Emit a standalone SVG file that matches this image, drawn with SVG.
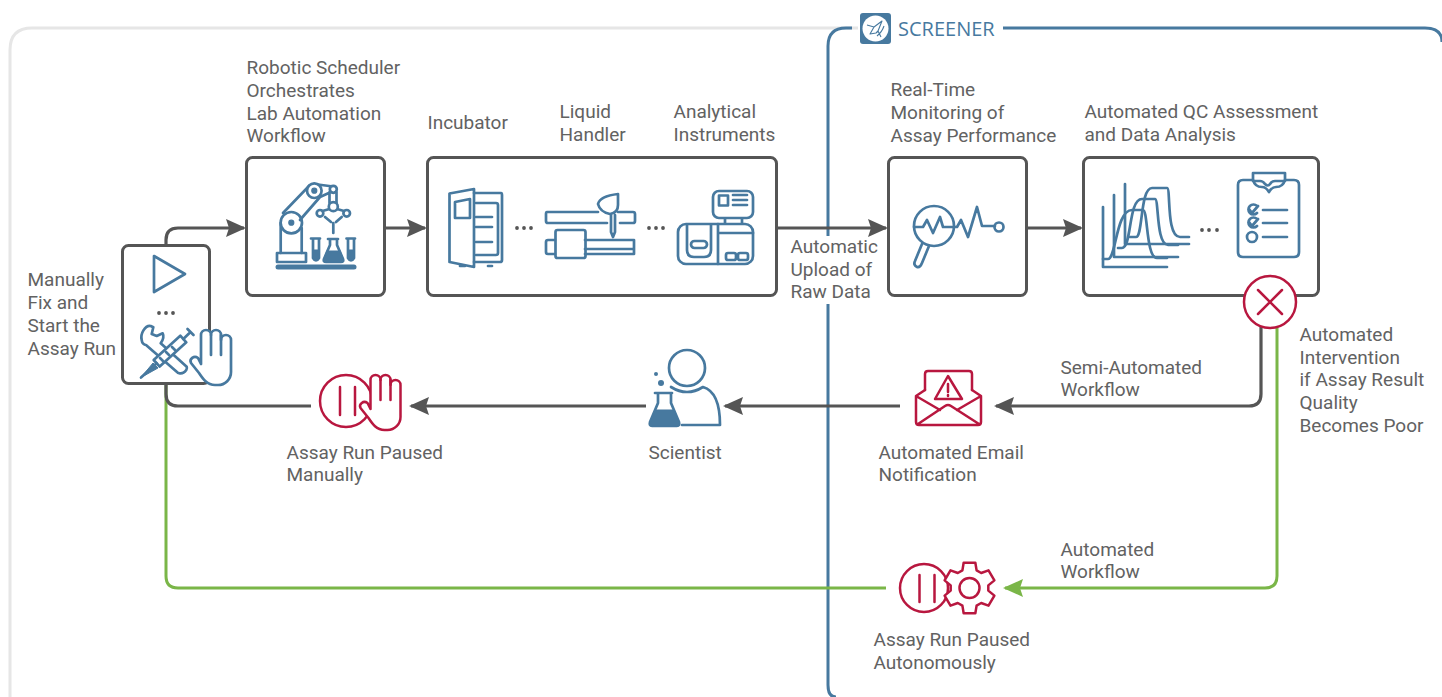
<svg xmlns="http://www.w3.org/2000/svg" width="1442" height="697" viewBox="0 0 1442 697">
<style>
text{font-family:Roboto,"Liberation Sans",sans-serif;font-size:19px;fill:#626262}
.box{fill:#fff;stroke:#555;stroke-width:3}
.b{fill:none;stroke:#47799f;stroke-width:2.700;stroke-linecap:round;stroke-linejoin:round}
.bw{fill:#fff;stroke:#47799f;stroke-width:2.700;stroke-linecap:round;stroke-linejoin:round}
.bf{fill:#47799f;stroke:#47799f;stroke-width:1.200;stroke-linejoin:round}
.r{fill:none;stroke:#b8173f;stroke-width:2.500;stroke-linecap:round;stroke-linejoin:round}
.rw{fill:#fff;stroke:#b8173f;stroke-width:2.500;stroke-linecap:round;stroke-linejoin:round}
.c{fill:none;stroke:#555;stroke-width:3.200}
.g{fill:none;stroke:#7ab648;stroke-width:3}
.d{fill:#555}
</style>
<defs>
<marker id="ag" markerUnits="userSpaceOnUse" markerWidth="22" markerHeight="20" refX="18" refY="9" orient="auto"><path d="M0,0L20,9L0,18L3,9Z" fill="#555"/></marker>
<marker id="ar" markerUnits="userSpaceOnUse" markerWidth="22" markerHeight="20" refX="18" refY="9" orient="auto"><path d="M0,0L20,9L0,18L3,9Z" fill="#7ab648"/></marker>
<symbol id="hand" overflow="visible"><path d="M12,37V8a5,5 0 0 1 10,0a5,5 0 0 1 10,0V13a5,5 0 0 1 10,0V45a13,13 0 0 1-13,13H26C18,58 14,52 10,46L2,36C0,32 5,28 9,31L12,37"/><path d="M22,8V28M32,8V28" fill="none"/></symbol>
</defs>
<g id="frames">
<path d="M10,697V50Q10,28 32,28H858" fill="none" stroke="#e6e6e6" stroke-width="3"/>
<path d="M836,697Q828,697 828,685V304M828,236V46Q828,28 846,28H852M1003,28H1425Q1442,28 1442,42" fill="none" stroke="#47799f" stroke-width="3"/>
</g>
<g id="connectors">
<path class="c" d="M166,245V240Q166,228 178,228H244" marker-end="url(#ag)"/>
<path class="c" d="M385,228H425" marker-end="url(#ag)"/>
<path class="c" d="M777,228H886" marker-end="url(#ag)"/>
<path class="c" d="M1027,228H1081" marker-end="url(#ag)"/>
<path class="g" d="M166,384V576Q166,588 178,588H886"/>
<path class="g" d="M1277,325V576Q1277,588 1265,588H1005" marker-end="url(#ar)"/>
<path class="c" d="M1261,325V394Q1261,406 1249,406H996" marker-end="url(#ag)"/>
<path class="c" d="M900,406H725" marker-end="url(#ag)"/>
<path class="c" d="M646,406H411" marker-end="url(#ag)"/>
<path class="c" d="M166,384V394Q166,406 178,406H311"/>
</g>
<g id="node-start">
<rect class="box" x="122.500" y="245.500" width="87" height="138" rx="6"/>
<path class="b" d="M154,256L185,274L154,292Z"/>
<circle class="d" cx="159" cy="313" r="1.900"/><circle class="d" cx="166" cy="313" r="1.900"/><circle class="d" cx="173" cy="313" r="1.900"/>
<path class="bw" d="M150.700,326C145,325 140,334 141.700,340C142,343 144,345 146,345L176.700,371.700C178,373.500 181.500,374 183.300,372.700C186,371.500 187.500,368.500 186.700,366.700L160.700,343.300C163,340 164,336 162.700,333.300L156.700,336L151.700,334L153.300,327.300Z"/>
<path class="bw" d="M153.700,360L180.300,335.700L186.300,342.300L159.700,366.600Z"/>
<path class="b" d="M156.700,363.300L141,377.500M183.300,339L190,332.500M187.500,329L193.500,335M160,358L163,361M166,352L169,355M172,347L175,350"/>
<path d="M141,377.500L153,363L158,368Z" fill="#47799f" stroke="#47799f" stroke-linejoin="round"/>
<use href="#hand" x="189" y="327" class="bw"/>
<text x="27.500" y="286">Manually</text><text x="27.500" y="309">Fix and</text><text x="27.500" y="332">Start the</text><text x="27.500" y="355">Assay Run</text>
</g>
<g id="node-scheduler">
<rect class="box" x="246.500" y="157.500" width="138" height="138" rx="6"/>
<path class="b" d="M280.700,253V223M301.700,253V228M283,213L309,186M300,220L320,197M314,184L333,186.500M320,197L331,192M329.500,192V203M336.500,192V203M329.500,209L322.500,211M337,209L344,211M325,217L331,222M341.700,217L336,222M333.300,223V233"/>
<circle class="b" cx="291.300" cy="222.700" r="10.700"/><circle class="bf" cx="291.300" cy="222.700" r="2.500"/>
<circle class="bw" cx="314.300" cy="190.700" r="7.300"/><circle class="bf" cx="314.300" cy="190.700" r="2.500"/>
<circle class="bw" cx="333.300" cy="189.300" r="3.500"/><circle class="bw" cx="333.300" cy="206.700" r="4.500"/>
<circle class="b" cx="320" cy="213.300" r="3.300"/><circle class="b" cx="346.700" cy="213.300" r="3.300"/>
<rect class="b" x="277" y="253" width="29" height="9"/>
<path d="M278,267H354" fill="none" stroke="#47799f" stroke-width="5" stroke-linecap="round"/>
<path class="b" d="M311,238.500H320M313,238.500V258Q316,263 319,258V238.500M346.500,238.500H355M348,238.500V258Q351,263 354,258V238.500"/>
<path class="bf" d="M313,250H319V258Q316,263 313,258Z"/><path class="bf" d="M348,250H354V258Q351,263 348,258Z"/>
<path class="b" d="M328,239H338M330,239V245L324,259Q323,262 326,262H341Q344,262 343,259L337,245V239"/>
<path class="bf" d="M327,251H340L343,259Q344,262 341,262H326Q323,262 324,259Z"/>
<text x="246.500" y="74">Robotic Scheduler</text><text x="246.500" y="97">Orchestrates</text><text x="246.500" y="120">Lab Automation</text><text x="246.500" y="142">Workflow</text>
</g>
<g id="node-instruments">
<rect class="box" x="427.500" y="157.500" width="349" height="138" rx="6"/>
<path class="b" d="M474,193H501Q502,193 502,195V260Q502,262 500,262H474M476,203H496Q498,203 498,205V253Q498,255 496,255H476M476,217H492M476,227H492M476,242H492"/>
<path class="b" d="M449.500,193.500L474,189V267L449.500,262ZM455,202L470,199V218H455Z"/>
<path class="b" d="M460,266H465M488,266H492"/>
<circle class="d" cx="517" cy="228" r="1.900"/><circle class="d" cx="524" cy="228" r="1.900"/><circle class="d" cx="531" cy="228" r="1.900"/>
<path class="b" d="M598,212H547Q546,212 546,214V221Q546,223 548,223H607M620,223H633Q635,223 635,221V214Q635,212 633,212H618"/>
<path class="b" d="M618,194V205Q618,213 610,214Q600,212 598,204Q600,196 618,194ZM611,215V232L613,237L615,232V215"/>
<path class="b" d="M555,240H548Q546,240 546,242V252Q546,254 548,254H555M585,240H634V254H585M585,249H634"/>
<rect class="b" x="555.500" y="230" width="30" height="28" rx="2"/>
<circle class="d" cx="649" cy="228" r="1.900"/><circle class="d" cx="656" cy="228" r="1.900"/><circle class="d" cx="663" cy="228" r="1.900"/>
<rect class="b" x="713" y="191" width="40" height="27" rx="6"/>
<rect class="b" x="719" y="195.500" width="9" height="10"/>
<path class="b" d="M733,195H747M733,200H747M733,205H747M725,219V223M742,219V223"/>
<rect class="b" x="678" y="224" width="75" height="40" rx="8"/>
<path class="b" d="M718,224V264M718,233H753M687,225V250Q687,257 694,257H704Q711,257 711,250V225"/>
<rect class="b" x="691" y="241" width="16" height="7" rx="3.500"/>
<rect class="b" x="726" y="253" width="10" height="7" rx="2"/><rect class="b" x="738" y="253" width="10" height="7" rx="2"/>
<text x="427.500" y="129">Incubator</text><text x="559.500" y="118">Liquid</text><text x="559.500" y="141">Handler</text><text x="673.500" y="118">Analytical</text><text x="673.500" y="141">Instruments</text>
</g>
<g id="node-monitoring">
<rect class="box" x="888.500" y="157.500" width="138" height="138" rx="6"/>
<circle class="b" cx="934" cy="226" r="20"/>
<path class="b" d="M929,246L922,263Q920,268 917,267Q913,265 915,261L922,244"/>
<path class="b" d="M914,227H923L927,220L933,233L940,217L943,227H957L961,220L968,237L977,207L982,226H995"/>
<circle class="b" cx="999" cy="227" r="4.500"/>
<text x="890.500" y="96">Real-Time</text><text x="890.500" y="119">Monitoring of</text><text x="890.500" y="142">Assay Performance</text>
</g>
<g id="node-qc">
<rect class="box" x="1083.500" y="157.500" width="235" height="138" rx="6"/>
<path class="b" stroke-linecap="butt" d="M1103,207V267H1167M1114,195V257H1178M1125,184V244H1189"/>
<path class="b" d="M1103,259H1108C1116,259 1116,210 1132,210H1143C1148,210 1146,258 1157,258H1167"/>
<path class="b" d="M1118,248H1122C1132,248 1128,199 1142,199H1155C1159,199 1156,245 1168,245H1178"/>
<path class="b" d="M1130,237H1136C1143,237 1140,188 1152,188H1167C1171,188 1166,237 1180,237H1189"/>
<circle class="d" cx="1202" cy="230" r="1.900"/><circle class="d" cx="1209" cy="230" r="1.900"/><circle class="d" cx="1217" cy="230" r="1.900"/>
<path class="b" d="M1253,180H1243Q1238,180 1238,185V252Q1238,257 1243,257H1294Q1299,257 1299,252V185Q1299,180 1294,180H1285M1253,180Q1255,187 1262,187Q1266,187 1269,192Q1272,187 1276,187Q1283,187 1285,180"/>
<path class="b" d="M1253,173H1285V181H1275Q1272,181 1270,184Q1268,187 1265,184Q1263,181 1260,181H1253Z"/>
<path class="b" d="M1257,206A5,5 0 1 0 1257,213M1249,209L1252,213L1258,206M1257,219A5,5 0 1 0 1257,226M1249,222L1252,226L1258,219M1263,210H1287M1263,223H1287M1263,237H1287"/>
<circle class="b" cx="1252" cy="237" r="5"/>
<text x="1084.500" y="118">Automated QC Assessment</text><text x="1084.500" y="141">and Data Analysis</text>
</g>
<g id="node-intervention">
<circle class="rw" cx="1270" cy="302" r="26"/>
<path class="r" d="M1258,290L1282,314M1282,290L1258,314"/>
<text x="1299.500" y="341">Automated</text><text x="1299.500" y="364">Intervention</text><text x="1299.500" y="386">if Assay Result</text><text x="1299.500" y="409">Quality</text><text x="1299.500" y="432">Becomes Poor</text>
</g>
<g id="node-email">
<path class="rw" d="M925,390V374Q925,371 928,371H969Q972,371 972,374V390"/>
<path class="r" d="M948,376L962,399H935ZM948,384V392M948,395V396"/>
<path class="r" d="M925,390L916,396V422Q916,425 919,425H978Q981,425 981,422V396L972,390M916,396L940,410M981,396L957,410M918,424L945,406Q948,404 951,406L979,424"/>
<text x="878.500" y="459">Automated Email</text><text x="878.500" y="481">Notification</text>
</g>
<g id="node-scientist">
<circle class="b" cx="687" cy="368" r="18"/>
<path class="b" d="M671,387Q687,397 703,387Q720,392 720,425H682"/>
<circle cx="656" cy="374" r="2" fill="#47799f"/><circle cx="661" cy="383" r="3" fill="#47799f"/>
<path class="b" d="M655,393H672M658,393V403L650,422Q649,426 652,426H677Q680,426 679,422L671,403V393"/>
<path class="bf" d="M656,410H673L679,423Q680,426 677,426H652Q649,426 650,423Z"/>
<text x="648.500" y="459">Scientist</text>
</g>
<g id="node-paused-manual">
<circle class="r" cx="346" cy="401" r="26"/>
<path class="r" d="M340,387V415M355,387V415"/>
<use href="#hand" x="358.500" y="372" class="rw"/>
<text x="286.500" y="459">Assay Run Paused</text><text x="286.500" y="481">Manually</text>
</g>
<g id="node-paused-auto">
<circle class="r" cx="924" cy="588" r="24"/>
<path class="r" d="M919.500,575V602M934.500,575V602"/>
<path class="rw" transform="translate(969.500,588)" d="M-7.100,-17.600L-5.850,-25.300H5.850L7.100,-17.600L11.700,-15L19,-17.700L24.900,-7.600L18.800,-2.600V2.600L24.900,7.600L19,17.700L11.700,15L7.100,17.600L5.850,25.300H-5.850L-7.100,17.600L-11.700,15L-19,17.700L-24.900,7.600L-18.800,2.600V-2.600L-24.900,-7.600L-19,-17.700L-11.700,-15Z"/>
<circle class="r" cx="969.500" cy="588" r="10"/>
<text x="873.500" y="646">Assay Run Paused</text><text x="873.500" y="669">Autonomously</text>
</g>
<g id="labels">
<text x="790.500" y="253">Automatic</text><text x="790.500" y="276">Upload of</text><text x="790.500" y="298">Raw Data</text>
<text x="1060.500" y="374">Semi-Automated</text><text x="1060.500" y="396">Workflow</text>
<text x="1060.500" y="556">Automated</text><text x="1060.500" y="578">Workflow</text>
</g>
<g id="logo">
<rect x="860" y="13" width="31" height="31" rx="3" fill="#47799f"/>
<circle cx="875.500" cy="28.500" r="13" fill="#fff"/>
<path d="M867,25L874,27L882,21L878,31L881,37M874,27L870,34L876,33L878,31M884,26Q882,32 877,36" fill="none" stroke="#47799f" stroke-width="1.100" stroke-linejoin="round"/>
<text x="898" y="36" style="font-family:'Open Sans',sans-serif;font-size:20px;fill:#47799f">SCREENER</text>
</g>
</svg>
